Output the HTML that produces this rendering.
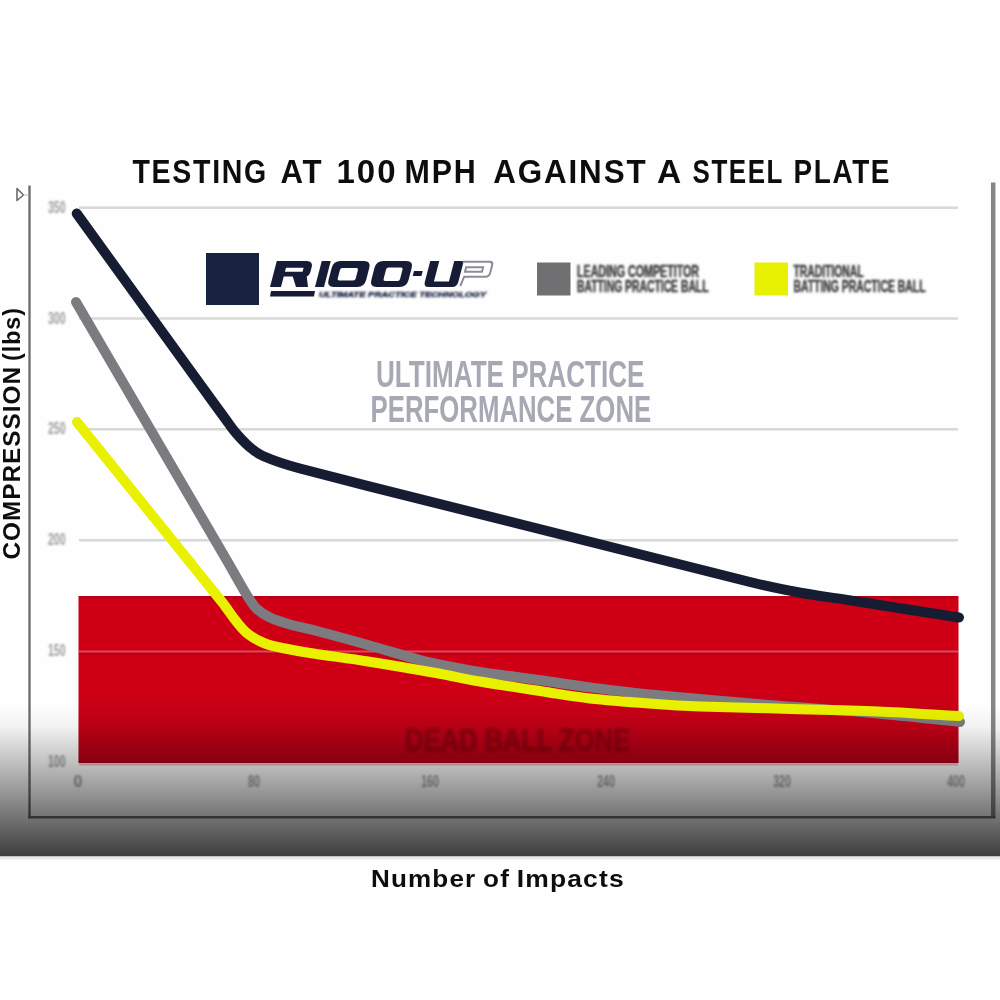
<!DOCTYPE html>
<html><head><meta charset="utf-8"><style>
html,body{margin:0;padding:0;background:#fefefe;}
body{width:1000px;height:1000px;overflow:hidden;position:relative;font-family:"Liberation Sans",sans-serif;}
svg{position:absolute;left:0;top:0;}
</style></head><body>
<svg width="1000" height="1000" viewBox="0 0 1000 1000">
<defs>
<linearGradient id="ov" x1="0" y1="0" x2="0" y2="1">
<stop offset="0" stop-color="#000" stop-opacity="0"/>
<stop offset="0.15" stop-color="#000" stop-opacity="0.05"/>
<stop offset="1" stop-color="#000" stop-opacity="0.76"/>
</linearGradient>
<linearGradient id="rd" x1="0" y1="0" x2="0" y2="1"><stop offset="0" stop-color="#000" stop-opacity="0"/><stop offset="1" stop-color="#000" stop-opacity="0.14"/></linearGradient>
<filter id="bl" x="-5%" y="-5%" width="110%" height="110%"><feGaussianBlur stdDeviation="0.6"/></filter>
<filter id="bl2" x="-10%" y="-30%" width="120%" height="160%"><feGaussianBlur stdDeviation="1.0"/></filter>
<filter id="bl3" x="-10%" y="-30%" width="120%" height="160%"><feGaussianBlur stdDeviation="1.6"/></filter>
</defs>
<rect x="0" y="0" width="1000" height="1000" fill="#fefefe"/>
<g filter="url(#bl)">
<!-- title -->
<g font-family="Liberation Sans" font-weight="bold" font-size="33.5" fill="#111" letter-spacing="2">
<text x="132.5" y="183.3" textLength="135.4" lengthAdjust="spacingAndGlyphs">TESTING</text>
<text x="280.5" y="183.3" textLength="43.0" lengthAdjust="spacingAndGlyphs">AT</text>
<text x="336.5" y="183.3" textLength="61.0" lengthAdjust="spacingAndGlyphs">100</text>
<text x="404.5" y="183.3" textLength="73.0" lengthAdjust="spacingAndGlyphs">MPH</text>
<text x="493.2" y="183.3" textLength="154.3" lengthAdjust="spacingAndGlyphs">AGAINST</text>
<text x="657.0" y="183.3" textLength="26.2" lengthAdjust="spacingAndGlyphs">A</text>
<text x="692.5" y="183.3" textLength="91.5" lengthAdjust="spacingAndGlyphs">STEEL</text>
<text x="793.5" y="183.3" textLength="97.6" lengthAdjust="spacingAndGlyphs">PLATE</text>
</g>
<!-- frame -->
<line x1="29.5" y1="185.5" x2="29.5" y2="818.5" stroke="#6a6a6a" stroke-width="2.3"/>
<line x1="993.2" y1="182.5" x2="993.2" y2="818" stroke="#868686" stroke-width="4.5"/>
<line x1="28.3" y1="817.2" x2="995.4" y2="817.2" stroke="#6e6e6e" stroke-width="2.6"/>
<!-- cursor icon -->
<path d="M17,188.5 L17,200.5 L23.5,195 Z" fill="none" stroke="#6a6a6a" stroke-width="1.6" stroke-linejoin="round"/>
<line x1="23.5" y1="195" x2="28.5" y2="195" stroke="#bbb" stroke-width="1"/>
<!-- gridlines -->
<g stroke="#d8d8d8" stroke-width="2.5">
<line x1="79" y1="207.8" x2="958" y2="207.8"/>
<line x1="79" y1="318.5" x2="958" y2="318.5"/>
<line x1="79" y1="429.2" x2="958" y2="429.2"/>
<line x1="79" y1="540.3" x2="958" y2="540.3"/>
</g>
<!-- red zone -->
<rect x="78.5" y="596" width="880" height="167" fill="#cf0019"/>
<line x1="79" y1="597.5" x2="958" y2="597.5" stroke="#b00016" stroke-width="2"/>
<line x1="79" y1="653.5" x2="958" y2="653.5" stroke="#b8001a" stroke-width="2"/>
<line x1="79" y1="651.5" x2="958" y2="651.5" stroke="#d94a58" stroke-width="2.2"/>
<rect x="78.5" y="690" width="880" height="73" fill="url(#rd)"/>
<line x1="79" y1="764.3" x2="958" y2="764.3" stroke="#f0b8c4" stroke-width="2.2"/>
<text filter="url(#bl3)" x="405" y="750.5" font-family="Liberation Sans" font-weight="bold" font-size="32" fill="#90000e" stroke="#90000e" stroke-width="1.6" textLength="225" lengthAdjust="spacingAndGlyphs">DEAD BALL ZONE</text>
<!-- y tick labels -->
<g filter="url(#bl2)" font-family="Liberation Sans" font-weight="bold" font-size="16" fill="#9c9c9c">
<text x="48" y="212.6" textLength="17.6" lengthAdjust="spacingAndGlyphs">350</text>
<text x="48" y="323.6" textLength="17.6" lengthAdjust="spacingAndGlyphs">300</text>
<text x="48" y="434" textLength="17.6" lengthAdjust="spacingAndGlyphs">250</text>
<text x="48" y="545" textLength="17.6" lengthAdjust="spacingAndGlyphs">200</text>
<text x="48" y="656" textLength="17.6" lengthAdjust="spacingAndGlyphs">150</text>
<text x="48" y="767" textLength="17.6" lengthAdjust="spacingAndGlyphs">100</text>
</g>
<g filter="url(#bl2)" font-family="Liberation Sans" font-weight="bold" font-size="16" fill="#9a9a9a" text-anchor="middle">
<text x="78" y="787">0</text>
<text x="254" y="787" textLength="12" lengthAdjust="spacingAndGlyphs">80</text>
<text x="430" y="787" textLength="17.6" lengthAdjust="spacingAndGlyphs">160</text>
<text x="606" y="787" textLength="17.6" lengthAdjust="spacingAndGlyphs">240</text>
<text x="782" y="787" textLength="17.6" lengthAdjust="spacingAndGlyphs">320</text>
<text x="956" y="787" textLength="17.6" lengthAdjust="spacingAndGlyphs">400</text>
</g>
<!-- data lines -->
<g fill="none" stroke-width="10" stroke-linecap="round" stroke-linejoin="round">
<path d="M76.7,213.5 C122.1,276.3 167.5,339.2 213.0,402.0 C216.9,407.4 220.8,412.7 224.7,418.0 C228.3,422.8 231.6,427.9 235.5,432.5 C239.7,437.4 244.1,442.3 249.0,446.5 C253.3,450.2 257.8,453.8 263.0,456.0 C275.0,461.2 287.4,465.2 300.0,468.5 C449.8,507.2 599.9,544.8 750.0,582.0 C767.2,586.3 784.6,589.8 802.0,593.0 C815.9,595.6 830.0,597.2 844.0,599.4 C882.3,605.4 920.7,611.5 959.0,617.5" stroke="#151d33"/>
<path d="M76.0,302.0 C126.0,387.7 176.1,473.3 226.0,559.0 C230.1,566.0 234.0,573.0 238.0,580.0 C241.3,585.7 244.4,591.5 248.0,597.0 C250.7,601.2 253.3,605.6 257.0,609.0 C260.8,612.5 265.3,615.3 270.0,617.5 C276.4,620.5 283.2,622.5 290.0,624.5 C298.2,626.9 306.7,628.3 315.0,630.5 C332.7,635.2 350.4,640.0 368.0,645.0 C385.4,649.9 402.5,655.4 420.0,660.0 C429.9,662.6 440.0,664.5 450.0,666.5 C460.0,668.5 469.9,670.5 480.0,672.0 C502.0,675.3 524.0,677.9 546.0,681.0 C560.7,683.1 575.3,685.5 590.0,687.4 C612.0,690.2 634.0,692.9 656.0,695.0 C696.0,698.9 736.0,702.2 776.0,705.5 C810.0,708.3 844.0,710.5 878.0,713.5 C905.4,716.0 932.7,719.2 960.0,722.0" stroke="#7c7c80"/>
<path d="M77.0,422.0 C125.3,482.0 173.9,541.8 222.0,602.0 C226.9,608.1 231.0,614.9 236.0,621.0 C239.7,625.6 243.3,630.4 248.0,634.0 C253.1,638.0 259.0,641.1 265.0,643.5 C271.4,646.0 278.3,647.1 285.0,648.5 C293.3,650.2 301.6,651.7 310.0,653.0 C329.3,656.0 348.7,658.4 368.0,661.5 C390.7,665.1 413.4,669.0 436.0,673.0 C450.7,675.6 465.3,679.0 480.0,681.5 C502.0,685.3 524.0,688.6 546.0,692.0 C560.7,694.3 575.3,696.9 590.0,698.5 C611.9,700.9 634.0,702.4 656.0,704.0 C670.7,705.1 685.3,705.9 700.0,706.5 C725.3,707.4 750.7,707.8 776.0,708.5 C810.0,709.5 844.0,710.1 878.0,711.5 C905.0,712.6 932.0,714.5 959.0,716.0" stroke="#e9f000"/>
</g>
<!-- legend -->
<rect x="206" y="253" width="53" height="52" fill="#172440"/>
<g transform="translate(0,287) skewX(-14.6) translate(0,-287)" fill="#161d35" fill-rule="evenodd">
<path d="M270,261 L300,261 Q306.5,261 306.5,267.5 L306.5,272 Q306.5,275 304,276.5 L308,287 L296,287 L290,276.5 L281,276.5 L281,287 L270,287 Z M281,267.8 L298.6,267.8 L298.6,271.8 L281,271.8 Z"/>
<rect x="315" y="261" width="9" height="26"/>
<path d="M333.7,261 L357.3,261 Q364.3,261 364.3,268 L364.3,280 Q364.3,287 357.3,287 L333.7,287 Q326.7,287 326.7,280 L326.7,268 Q326.7,261 333.7,261 Z M337.5,268 L351.5,268 Q353.5,268 353.5,270 L353.5,278.5 Q353.5,280.5 351.5,280.5 L337.5,280.5 Q335.5,280.5 335.5,278.5 L335.5,270 Q335.5,268 337.5,268 Z"/>
<path d="M376.5,261 L399.7,261 Q406.7,261 406.7,268 L406.7,280 Q406.7,287 399.7,287 L376.5,287 Q369.5,287 369.5,280 L369.5,268 Q369.5,261 376.5,261 Z M383.5,267.5 L396,267.5 Q398,267.5 398,269.5 L398,279 Q398,281 396,281 L383.5,281 Q381.5,281 381.5,279 L381.5,269.5 Q381.5,267.5 383.5,267.5 Z"/>
<rect x="409.8" y="271" width="8.8" height="5"/>
<path d="M423.5,261 L432.5,261 L432.5,281.5 L447.5,281.5 L447.5,261 L457,261 L457,282 Q457,287 452,287 L428.5,287 Q423.5,287 423.5,282 Z"/>
<path d="M456,261.8 L483,261.8 Q486.5,261.8 486.5,265.3 L486.5,273 Q486.5,276.8 483,276.8 L461.5,276.8 L460,286 M461,267.3 L478,267.3 L478,271.8 L461,271.8 Z" fill="none" stroke="#8a8c96" stroke-width="2"/>
</g>
<path d="M271,291 L315,291 L314,296.5 L270,296.5 Z" fill="#161d35"/>
<text filter="url(#bl2)" x="319" y="296.5" font-family="Liberation Sans" font-weight="bold" font-style="italic" font-size="8" fill="#2c3250" stroke="#2c3250" stroke-width="0.5" textLength="167" lengthAdjust="spacingAndGlyphs">ULTIMATE PRACTICE TECHNOLOGY</text>
<rect x="537" y="262.5" width="33.5" height="33" fill="#6f6f73"/>
<g filter="url(#bl2)" font-family="Liberation Sans" font-weight="bold" font-size="16.5" fill="#3a3a3a" stroke="#3a3a3a" stroke-width="0.5">
<text x="577" y="276.8" textLength="122" lengthAdjust="spacingAndGlyphs">LEADING COMPETITOR</text>
<text x="577" y="291.8" textLength="131.5" lengthAdjust="spacingAndGlyphs">BATTING PRACTICE BALL</text>
</g>
<rect x="754.5" y="262.5" width="33.5" height="33" fill="#e6f000"/>
<g filter="url(#bl2)" font-family="Liberation Sans" font-weight="bold" font-size="16.5" fill="#3a3a3a" stroke="#3a3a3a" stroke-width="0.5">
<text x="793.5" y="276.8" textLength="70" lengthAdjust="spacingAndGlyphs">TRADITIONAL</text>
<text x="793.5" y="291.8" textLength="132" lengthAdjust="spacingAndGlyphs">BATTING PRACTICE BALL</text>
</g>
<!-- zone text -->
<g font-family="Liberation Sans" font-weight="bold" font-size="37" fill="#a6a9b3">
<text x="376" y="387" textLength="268.5" lengthAdjust="spacingAndGlyphs">ULTIMATE PRACTICE</text>
<text x="370.5" y="422" textLength="280.7" lengthAdjust="spacingAndGlyphs">PERFORMANCE ZONE</text>
</g>
<!-- y label -->
<g transform="translate(19.5,0) rotate(-90)" font-family="Liberation Sans" font-weight="bold" font-size="24" fill="#111">
<text x="-559.5" y="0" textLength="193.5" lengthAdjust="spacingAndGlyphs" letter-spacing="1">COMPRESSION</text>
<text x="-361" y="0" textLength="54" lengthAdjust="spacingAndGlyphs" letter-spacing="1">(lbs)</text>
</g>
</g>
<!-- overlay -->
<rect x="0" y="704" width="1000" height="152.5" fill="url(#ov)"/>
<rect x="0" y="856.5" width="1000" height="3" fill="#e8e8e8"/>
<!-- x label -->
<g filter="url(#bl)" font-family="Liberation Sans" font-weight="bold" font-size="23" fill="#111">
<text x="371.1" y="886.6" textLength="105.2" lengthAdjust="spacingAndGlyphs" letter-spacing="1">Number</text>
<text x="483.1" y="886.6" textLength="26.9" lengthAdjust="spacingAndGlyphs" letter-spacing="1">of</text>
<text x="516.8" y="886.6" textLength="108.0" lengthAdjust="spacingAndGlyphs" letter-spacing="1">Impacts</text>
</g>
</svg>
</body></html>
